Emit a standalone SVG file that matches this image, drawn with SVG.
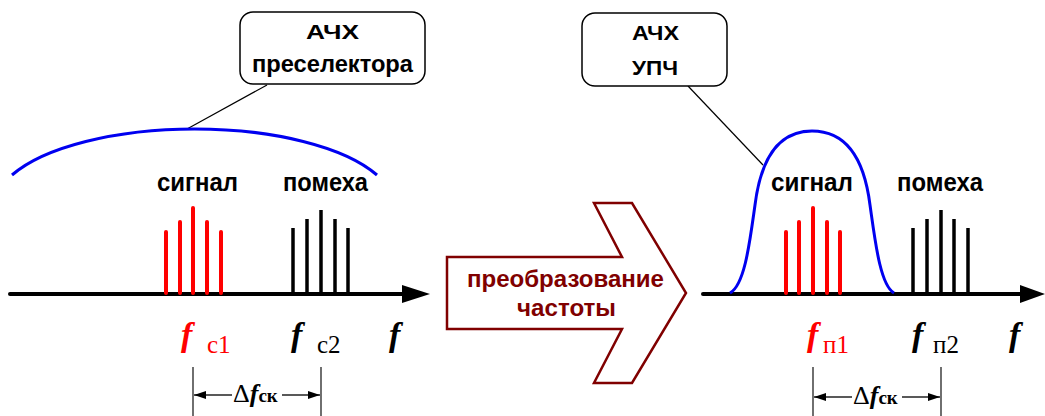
<svg xmlns="http://www.w3.org/2000/svg" width="1045" height="416" viewBox="0 0 1045 416">
<defs>
<style>
.sans{font-family:"Liberation Sans",Arial,sans-serif;font-weight:bold;}
.box{fill:#fff;stroke:#000;stroke-width:1.5;}
.lead{stroke:#000;stroke-width:1.2;fill:none;}
.axis{stroke:#000;stroke-width:4;stroke-linecap:round;}
.red{stroke:#f00;stroke-width:4;stroke-linecap:round;}
.blk{stroke:#000;stroke-width:3.5;stroke-linecap:butt;}
.afc{fill:none;stroke:#0000f0;stroke-width:3;}
.dim{stroke:#222;stroke-width:1.3;}
</style>
<marker id="dimarrow" viewBox="0 0 12 8" refX="12" refY="4" markerWidth="12" markerHeight="8" markerUnits="userSpaceOnUse" orient="auto-start-reverse">
<path d="M0,0 L12,4 L0,8 Z" fill="#000"/>
</marker>
</defs>
<rect width="1045" height="416" fill="#fff"/>

<g id="connectors">
<line class="lead" x1="267" y1="85" x2="187" y2="129"/>
<line class="lead" x1="688" y1="86" x2="763" y2="165"/>
</g>

<g id="left-axis">
<line class="axis" x1="10" y1="294" x2="405" y2="294"/>
<path d="M402,285 L430,294 L402,303 Z" fill="#000"/>
</g>
<g id="right-axis">
<line class="axis" x1="703" y1="294" x2="1022" y2="294"/>
<path d="M1020,285 L1045,294 L1020,303 Z" fill="#000"/>
</g>

<g id="left-preselector-curve">
<path class="afc" d="M12,175 A200,78 0 0 1 377,175"/>
</g>
<g id="right-if-curve">
<path class="afc" d="M730,293 C745,285 750,240 755,205 C760,165 775,131 812,131 C850,131 865,165 870,205 C875,240 880,285 894,293"/>
</g>

<g id="left-signal">
<line class="red" x1="166" y1="232" x2="166" y2="293"/>
<line class="red" x1="180" y1="222" x2="180" y2="293"/>
<line class="red" x1="193" y1="208" x2="193" y2="293"/>
<line class="red" x1="207" y1="222" x2="207" y2="293"/>
<line class="red" x1="221" y1="232" x2="221" y2="293"/>
<text class="sans" x="157" y="191" font-size="26" textLength="81" lengthAdjust="spacingAndGlyphs">сигнал</text>
</g>
<g id="left-interference">
<line class="blk" x1="293" y1="228" x2="293" y2="293"/>
<line class="blk" x1="307" y1="219" x2="307" y2="293"/>
<line class="blk" x1="321" y1="210" x2="321" y2="293"/>
<line class="blk" x1="335" y1="219" x2="335" y2="293"/>
<line class="blk" x1="348" y1="228" x2="348" y2="293"/>
<text class="sans" x="283" y="191" font-size="26" textLength="85" lengthAdjust="spacingAndGlyphs">помеха</text>
</g>

<g id="right-signal">
<line class="red" x1="786" y1="232" x2="786" y2="293"/>
<line class="red" x1="799" y1="222" x2="799" y2="293"/>
<line class="red" x1="813" y1="208" x2="813" y2="293"/>
<line class="red" x1="827" y1="222" x2="827" y2="293"/>
<line class="red" x1="840" y1="232" x2="840" y2="293"/>
<text class="sans" x="771" y="191" font-size="26" textLength="82" lengthAdjust="spacingAndGlyphs">сигнал</text>
</g>
<g id="right-interference">
<line class="blk" x1="913" y1="228" x2="913" y2="293"/>
<line class="blk" x1="927" y1="219" x2="927" y2="293"/>
<line class="blk" x1="941" y1="210" x2="941" y2="293"/>
<line class="blk" x1="954" y1="219" x2="954" y2="293"/>
<line class="blk" x1="968" y1="228" x2="968" y2="293"/>
<text class="sans" x="897" y="191" font-size="26" textLength="86" lengthAdjust="spacingAndGlyphs">помеха</text>
</g>

<g id="box-preselector">
<rect class="box" x="240" y="12" width="185" height="72" rx="13"/>
<text class="sans" x="306" y="39" font-size="21" textLength="53" lengthAdjust="spacingAndGlyphs">АЧХ</text>
<text class="sans" x="252" y="72" font-size="23" textLength="161" lengthAdjust="spacingAndGlyphs">преселектора</text>
</g>
<g id="box-if">
<rect class="box" x="582" y="13" width="145" height="73" rx="13"/>
<text class="sans" x="632" y="40" font-size="21" textLength="47" lengthAdjust="spacingAndGlyphs">АЧХ</text>
<text class="sans" x="632" y="75" font-size="21" textLength="46" lengthAdjust="spacingAndGlyphs">УПЧ</text>
</g>

<g id="conversion-arrow">
<path d="M447,257 L622,257 L594,203 L632,203 L686,293 L632,383 L594,383 L622,329 L447,329 Z" fill="#fff" stroke="#800000" stroke-width="2.5" stroke-linejoin="miter"/>
<text class="sans" x="467" y="287" font-size="24" fill="#800000" textLength="197" lengthAdjust="spacingAndGlyphs">преобразование</text>
<text class="sans" x="517" y="316" font-size="24" fill="#800000" textLength="99" lengthAdjust="spacingAndGlyphs">частоты</text>
</g>

<g id="left-labels">
<text x="181" y="346" font-family="Liberation Serif, Times New Roman, serif" font-weight="bold" font-style="italic" font-size="34" fill="#f00">f</text>
<text x="207" y="353" font-family="Liberation Serif, Times New Roman, serif" font-size="25" fill="#f00">с1</text>
<text x="291" y="346" font-family="Liberation Serif, Times New Roman, serif" font-weight="bold" font-style="italic" font-size="34" fill="#000">f</text>
<text x="317" y="353" font-family="Liberation Serif, Times New Roman, serif" font-size="25" fill="#000">с2</text>
<text x="389" y="346" font-family="Liberation Serif, Times New Roman, serif" font-weight="bold" font-style="italic" font-size="34" fill="#000">f</text>
</g>
<g id="right-labels">
<text x="807" y="346" font-family="Liberation Serif, Times New Roman, serif" font-weight="bold" font-style="italic" font-size="34" fill="#f00">f</text>
<text x="823" y="353" font-family="Liberation Serif, Times New Roman, serif" font-size="25" fill="#f00">п1</text>
<text x="912" y="346" font-family="Liberation Serif, Times New Roman, serif" font-weight="bold" font-style="italic" font-size="34" fill="#000">f</text>
<text x="933" y="353" font-family="Liberation Serif, Times New Roman, serif" font-size="25" fill="#000">п2</text>
<text x="1009" y="346" font-family="Liberation Serif, Times New Roman, serif" font-weight="bold" font-style="italic" font-size="34" fill="#000">f</text>
</g>

<g id="left-dimension">
<line class="dim" x1="193" y1="367" x2="193" y2="416"/>
<line class="dim" x1="321" y1="367" x2="321" y2="416"/>
<line class="dim" x1="232" y1="395" x2="194" y2="395" marker-end="url(#dimarrow)"/>
<line class="dim" x1="282" y1="395" x2="320" y2="395" marker-end="url(#dimarrow)"/>
<text x="233" y="402" font-family="Liberation Serif, Times New Roman, serif" font-size="26">Δ<tspan font-weight="bold" font-style="italic">f</tspan><tspan font-weight="bold" font-size="19">ск</tspan></text>
</g>
<g id="right-dimension">
<line class="dim" x1="813" y1="367" x2="813" y2="416"/>
<line class="dim" x1="941" y1="367" x2="941" y2="416"/>
<line class="dim" x1="852" y1="397" x2="814" y2="397" marker-end="url(#dimarrow)"/>
<line class="dim" x1="902" y1="397" x2="940" y2="397" marker-end="url(#dimarrow)"/>
<text x="853" y="404" font-family="Liberation Serif, Times New Roman, serif" font-size="26">Δ<tspan font-weight="bold" font-style="italic">f</tspan><tspan font-weight="bold" font-size="19">ск</tspan></text>
</g>
</svg>
